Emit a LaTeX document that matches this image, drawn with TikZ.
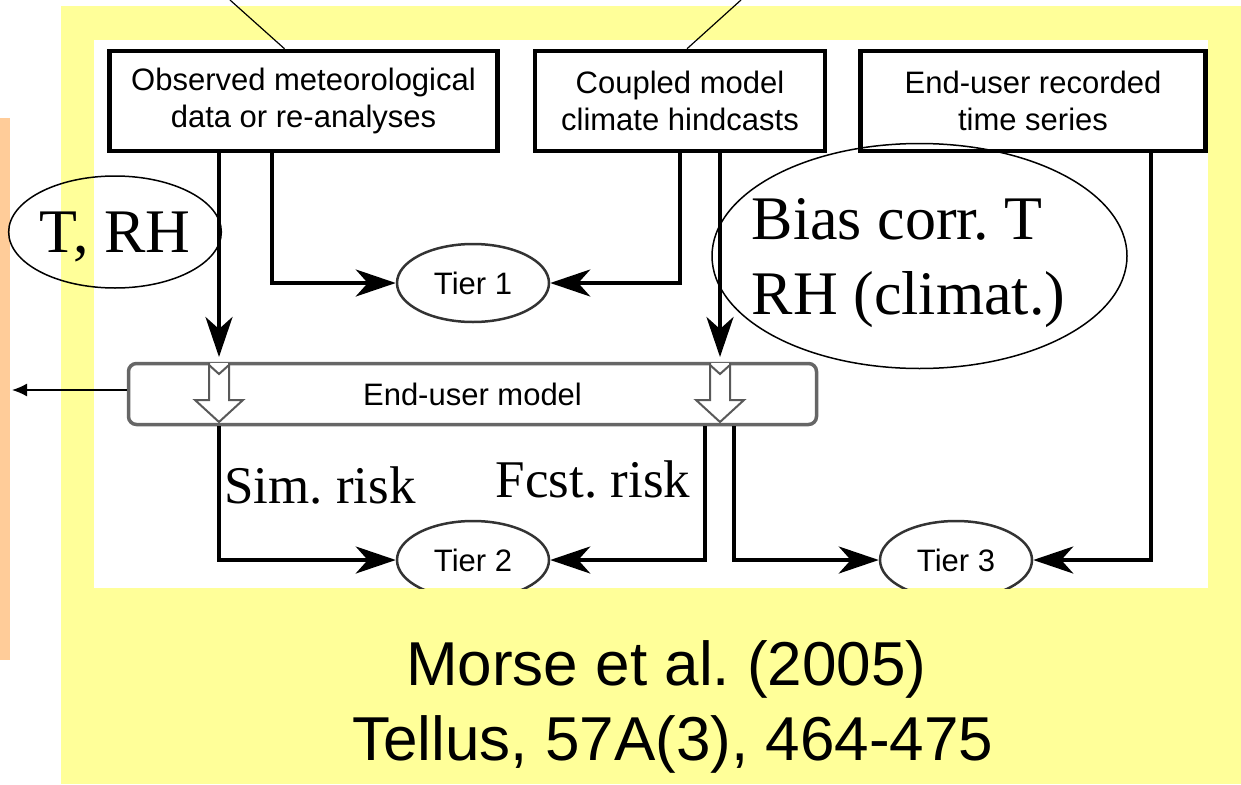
\documentclass[tikz,border=0pt]{standalone}
\usepackage{fontspec}
\setmainfont{Liberation Serif}
\setsansfont{Liberation Sans}
\usetikzlibrary{arrows.meta,shapes.geometric}
\definecolor{paleyellow}{HTML}{FFFF99}
\definecolor{peach}{HTML}{FFCC99}

% open block arrow drawn inside the model box
\newcommand\hollowarrow[1]{%
  \draw[hollow,shift={(#1)}] (-10,1) -- (-10,38) -- (-24,38) -- (0,60) -- (24,38) -- (10,38) -- (10,1);
  \draw[hollow,shift={(#1)}] (-10,3) -- (0,12) -- (10,3);}

\begin{document}
\frenchspacing
\begin{tikzpicture}[x=1pt,y=-1pt,
    src/.style={draw,line width=4.5pt,minimum height=100pt,inner sep=0pt,align=center,
      font=\sffamily\fontsize{31}{37}\selectfont},
    tier/.style={ellipse,draw=black!80,line width=2.5pt,minimum width=152pt,minimum height=78pt,
      inner sep=0pt,font=\sffamily\fontsize{31}{36}\selectfont},
    flow/.style={line width=4pt,-{Stealth[length=40pt,width=27pt,inset=12pt]}},
    hollow/.style={draw=black!65,line width=2pt,fill=white},
    note/.style={inner sep=0pt,font=\fontsize{62}{75}\selectfont},
    risk/.style={inner sep=0pt,anchor=base,font=\fontsize{53}{60}\selectfont},
    cite/.style={inner sep=0pt,anchor=base west,font=\sffamily\fontsize{62}{70}\selectfont}]
  \useasboundingbox (0,0) rectangle (1241,784);

  % backgrounds
  \fill[paleyellow] (61,6) rectangle (1241,784);
  \fill[peach] (0,118) rectangle (10,660);
  \fill[white] (94,40) rectangle (1208,588);

  \coordinate (in1) at (219,362);
  \coordinate (in2) at (720,362);
  \coordinate (risk2) at (705,0);
  \coordinate (risk3) at (734,0);
  \coordinate (lead1) at (230,0);
  \coordinate (lead2) at (741,0);
  \coordinate (outleft) at (12,0);

  \begin{scope}
    \clip (94,40) rectangle (1208,588);
    \node[src,minimum width=388pt] (obs) at (303.5,101) {Observed meteorological\\data or re-analyses};
    \node[src,minimum width=290pt] (hind) at (680,101) {Coupled model\\climate hindcasts};
    \node[src,minimum width=345pt] (rec) at (1033,101) {End-user recorded\\time series};

    \node[draw=black!60,line width=3.5pt,rounded corners=8pt,minimum width=688pt,minimum height=61pt,
      font=\sffamily\fontsize{31}{36}\selectfont] (model) at (472.5,394) {End-user model};

    \node[tier] (tier1) at (473,283) {Tier 1};
    \node[tier] (tier2) at (473,560) {Tier 2};
    \node[tier] (tier3) at (956,560) {Tier 3};

    \draw[flow,shorten >=5pt] (obs.south -| in1) -- (in1);
    \draw[flow,shorten >=5pt] (hind.south -| in2) -- (in2);
    \draw[flow] ([xshift=-31.5pt]obs.south) |- (tier1);
    \draw[flow] (hind.south) |- (tier1);
    \draw[flow] (model.south -| in1) |- (tier2);
    \draw[flow] (model.south -| risk2) |- (tier2);
    \draw[flow] (model.south -| risk3) |- (tier3);
    \draw[flow] ([xshift=118pt]rec.south) |- (tier3);

    \hollowarrow{in1}
    \hollowarrow{in2}

    \node[risk] (sim) at (320,503) {Sim. risk};
    \node[risk] (fcst) at (593,497) {Fcst. risk};
  \end{scope}

  \draw[line width=1.2pt] (lead1) -- ([xshift=-19pt]obs.north);
  \draw[line width=1.2pt] (lead2) -- ([xshift=7pt]hind.north);
  \draw[line width=1.5pt,-{Latex[length=15pt,width=13pt]}] ([yshift=4pt]model.west) -- ([yshift=4pt]model.west -| outleft);

  \node[note,ellipse,draw,line width=1.5pt,minimum width=194pt,minimum height=112pt,text depth=0pt] (trh) at (115,232) {T, RH};
  \node[ellipse,draw,line width=1.5pt,minimum width=415pt,minimum height=225pt] (bias) at (919.5,256) {};
  \node[note,align=left,text depth=0pt] (biastext) at (908.5,256) {Bias corr. T\\RH (climat.)};

  \node[cite] (ref1) at (406,685) {Morse et al. (2005)};
  \node[cite] (ref2) at (352,760) {Tellus, 57A(3), 464-475};
\end{tikzpicture}
\end{document}
